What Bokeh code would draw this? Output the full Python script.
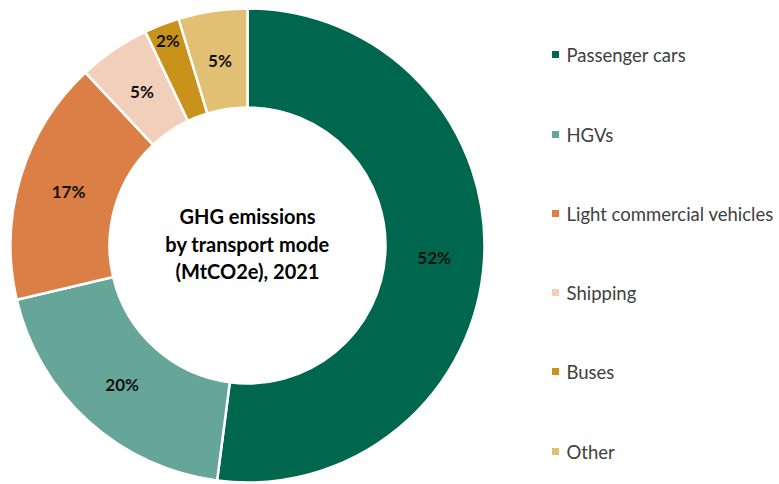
import numpy as np
from bokeh.plotting import figure
from bokeh.models import Range1d, ColumnDataSource
from bokeh.embed import file_html
from bokeh.resources import INLINE
from bokeh.core.properties import value

categories = ["Passenger cars", "HGVs", "Light commercial vehicles", "Shipping", "Buses", "Other"]
shares = [52.1, 19.3, 16.7, 4.9, 2.4, 4.7]
share_labels = ["52%", "20%", "17%", "5%", "2%", "5%"]
colors = ["#00674F", "#66A698", "#DB7F46", "#F2CFBA", "#C9921A", "#E1BF73"]
title_lines = ["GHG emissions", "by transport mode", "(MtCO2e), 2021"]

W, H = 779, 484
p = figure(width=W, height=H, output_backend="svg", toolbar_location=None,
           x_range=Range1d(0, W), y_range=Range1d(0, H), min_border=0)
p.axis.visible = False
p.grid.visible = False
p.outline_line_color = None
p.background_fill_color = "white"
p.border_fill_color = "white"

cx, cy = 247, 239
r_in, r_out = 138, 237

vals = np.array(shares, dtype=float)
frac = vals / vals.sum()
cum = np.concatenate([[0], np.cumsum(frac)])
start = np.pi / 2 - 2 * np.pi * cum[:-1]
end = np.pi / 2 - 2 * np.pi * cum[1:]
mid = (start + end) / 2
lab_r = np.where(frac < 0.03, 220, 187)

src = ColumnDataSource(dict(start=start, end=end, color=colors, cat=categories))
p.annular_wedge(x=cx, y=cy, inner_radius=r_in, outer_radius=r_out,
                start_angle="start", end_angle="end", direction="clock",
                fill_color="color", line_color="white", line_width=2.5, source=src)

lsrc = ColumnDataSource(dict(x=cx + lab_r * np.cos(mid), y=cy + lab_r * np.sin(mid), t=share_labels))
p.text(x="x", y="y", text="t", source=lsrc, text_align="center", text_baseline="middle",
       text_font=value("Lato"), text_font_style="bold", text_font_size="17px", text_color="#111111")

ty = cy + 27.5 * (np.arange(len(title_lines))[::-1] - 1) + 2
p.text(x=[cx] * len(title_lines), y=list(ty), text=title_lines, text_align="center",
       text_baseline="middle", text_font=value("Lato"), text_font_style="bold",
       text_font_size="20px", text_color="#000000")

leg_y = H - np.array([54, 134, 213, 292, 371, 451])
p.scatter(x=[555] * len(categories), y=list(leg_y), marker="square", size=7,
          fill_color=colors, line_color=None)
p.text(x=[566] * len(categories), y=list(leg_y), text=categories, text_align="left",
       text_baseline="middle", text_font=value("Lato"), text_font_size="18.5px",
       text_color="#404040")

open("out.html", "w").write(file_html(p, INLINE))
